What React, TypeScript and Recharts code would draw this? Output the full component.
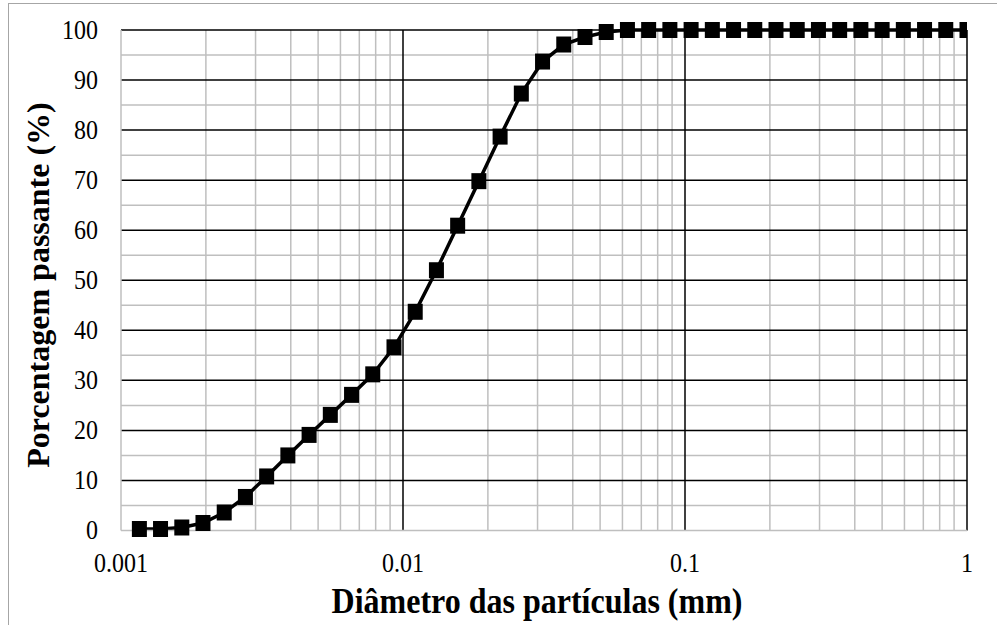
import { LineChart, Line, XAxis, YAxis, ReferenceLine } from 'recharts';

// diâmetro (mm) e porcentagem passante (%)
const diametros = [
  0.001162, 0.001381, 0.001643, 0.001953, 0.002323, 0.002762, 0.003285, 0.003906,
  0.004645, 0.005524, 0.00657, 0.0078125, 0.009291, 0.011049, 0.013139, 0.015625,
  0.018581, 0.022097, 0.026278, 0.03125, 0.037163, 0.044194, 0.052556, 0.0625,
  0.074325, 0.088388, 0.105112, 0.125, 0.148651, 0.176777, 0.210224, 0.25,
  0.297302, 0.353553, 0.420448, 0.5, 0.594604, 0.707107, 0.840896, 1
];
const passante = [
  0.3, 0.3, 0.6, 1.5, 3.6, 6.7, 10.8, 15.0,
  19.1, 23.1, 27.1, 31.2, 36.6, 43.7, 52.0, 60.9,
  69.8, 78.7, 87.3, 93.7, 97.1, 98.6, 99.6, 100,
  100, 100, 100, 100, 100, 100, 100, 100,
  100, 100, 100, 100, 100, 100, 100, 100
];

const xTicks = [0.001, 0.01, 0.1, 1];
const yTicks = [0, 10, 20, 30, 40, 50, 60, 70, 80, 90, 100];
const xMinor = [
  0.002, 0.003, 0.004, 0.005, 0.006, 0.007, 0.008, 0.009,
  0.02, 0.03, 0.04, 0.05, 0.06, 0.07, 0.08, 0.09,
  0.2, 0.3, 0.4, 0.5, 0.6, 0.7, 0.8, 0.9
];
const xMajor = [0.01, 0.1, 1];
const yMinor = [5, 15, 25, 35, 45, 55, 65, 75, 85, 95];
const yMajor = [10, 20, 30, 40, 50, 60, 70, 80, 90, 100];

const data = diametros.map((d, i) => ({ d, p: passante[i] }));

const serif = 'Liberation Serif, Times New Roman, serif';
const minorColor = '#bfbfbf';

const SquareDot = (props: any) => {
  const { cx, cy } = props;
  if (cx == null || cy == null) return null;
  return <rect x={cx - 7.5} y={cy - 8} width={15} height={16} fill="#000" />;
};

// o gráfico original está levemente esticado na vertical
const XTick = (props: any) => {
  const { x, y, payload } = props;
  return (
    <g transform={`translate(${x},${y + 41}) scale(1,1.1)`}>
      <text x={0} y={0} textAnchor="middle" fill="#000" fontFamily={serif} fontSize={24}>
        {String(payload.value)}
      </text>
    </g>
  );
};

const YTick = (props: any) => {
  const { x, y, payload } = props;
  return (
    <g transform={`translate(${x},${y + 8.5}) scale(1,1.1)`}>
      <text x={0} y={0} textAnchor="end" fill="#000" fontFamily={serif} fontSize={24}>
        {payload.value}
      </text>
    </g>
  );
};

const App = () => {
  return (
    <div style={{ position: 'absolute', left: 0, top: 0, width: 997, height: 625, overflow: 'hidden', background: '#fff', fontFamily: serif }}>
      <div style={{ position: 'absolute', left: 8, top: 3, width: 1200, height: 1000, border: '1.5px solid #a6a6a6' }} />
      <div style={{ position: 'absolute', left: 0, top: 0 }}>
        <LineChart
          width={997}
          height={625}
          data={data}
          margin={{ top: 30, right: 30, left: 0, bottom: 0 }}
          style={{ fontFamily: serif }}
        >
          {xMinor.map((v) => (
            <ReferenceLine key={'xm' + v} x={v} stroke={minorColor} strokeWidth={1.5} zIndex={-100} />
          ))}
          {yMinor.map((v) => (
            <ReferenceLine key={'ym' + v} y={v} stroke={minorColor} strokeWidth={1.5} zIndex={-100} />
          ))}
          {yMajor.map((v) => (
            <ReferenceLine key={'yM' + v} y={v} stroke="#000" strokeWidth={1.5} zIndex={-90} />
          ))}
          {xMajor.map((v) => (
            <ReferenceLine key={'xM' + v} x={v} stroke="#000" strokeWidth={1.5} zIndex={-90} />
          ))}
          <XAxis
            dataKey="d"
            type="number"
            scale="log"
            domain={[0.001, 1]}
            ticks={xTicks}
            allowDataOverflow
            height={94.5}
            tickLine={false}
            tickSize={0}
            tickMargin={0}
            axisLine={{ stroke: minorColor, strokeWidth: 1.5 }}
            tick={<XTick />}
          />
          <YAxis
            type="number"
            domain={[0, 100]}
            ticks={yTicks}
            width={121}
            tickLine={false}
            tickSize={0}
            tickMargin={23}
            axisLine={{ stroke: minorColor, strokeWidth: 1.5 }}
            tick={<YTick />}
          />
          <Line
            type="linear"
            dataKey="p"
            stroke="#000"
            strokeWidth={3.5}
            dot={<SquareDot />}
            activeDot={false}
            isAnimationActive={false}
          />
        </LineChart>
      </div>
      <div
        style={{
          position: 'absolute',
          left: 537,
          top: 601,
          transform: 'translate(-50%, -50%) scaleY(1.12)',
          whiteSpace: 'nowrap',
          fontSize: 32,
          fontWeight: 'bold',
          lineHeight: 1,
        }}
      >
        Diâmetro das partículas (mm)
      </div>
      <div
        style={{
          position: 'absolute',
          left: 38,
          top: 285,
          transform: 'translate(-50%, -50%) rotate(-90deg)',
          whiteSpace: 'nowrap',
          fontSize: 32,
          fontWeight: 'bold',
          lineHeight: 1,
        }}
      >
        Porcentagem passante (%)
      </div>
    </div>
  );
};

export default App;
